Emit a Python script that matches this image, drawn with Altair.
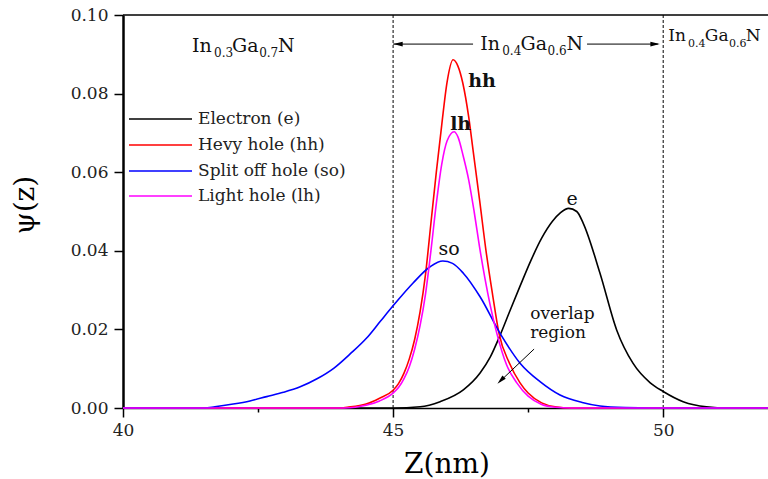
import altair as alt
import pandas as pd

# ---------------- data ----------------
series_names = ["Electron (e)", "Hevy hole (hh)", "Split off hole (so)", "Light hole (lh)"]
series_colors = ["#000000", "#ff0000", "#0000ff", "#ff00ff"]

e_z = [40, 45.0, 45.5, 45.87, 46.3, 46.61, 46.8, 46.98, 47.15, 47.35, 47.55, 47.75, 47.95, 48.1, 48.25,
       48.4, 48.52, 48.83, 49.14, 49.44, 49.76, 50.0, 50.37, 50.8, 51.2, 51.94]
e_psi = [0, 0, 0.0003, 0.0016, 0.0046, 0.0089, 0.013, 0.0185, 0.0243, 0.031, 0.0375, 0.0432, 0.0475, 0.0497, 0.0508,
         0.0500, 0.047, 0.0343, 0.0198, 0.0114, 0.0064, 0.0042, 0.0016, 0.0003, 0, 0]

hh_z = [40, 44.0, 44.15, 44.5, 44.75, 45.0, 45.1, 45.2, 45.3, 45.4, 45.5, 45.6, 45.7, 45.8, 45.9, 46.0, 46.11,
        46.2, 46.29, 46.4, 46.48, 46.6, 46.72, 46.84, 46.96, 47.15, 47.35, 47.5, 47.75, 48.0, 48.3, 51.94]
hh_psi = [0, 0, 0.0002, 0.001, 0.0025, 0.0045, 0.0062, 0.0088, 0.0125, 0.0175, 0.0245, 0.034, 0.047, 0.060, 0.072,
          0.083, 0.0886, 0.087, 0.0827, 0.074, 0.0656, 0.053, 0.040, 0.029, 0.019, 0.0115, 0.0064, 0.0038, 0.0013,
          0.0003, 0, 0]

so_z = [40, 41.5, 41.7, 42.04, 42.35, 42.66, 42.97, 43.28, 43.6, 43.9, 44.2, 44.51, 44.76, 45.0, 45.37, 45.69,
        45.92, 46.1, 46.3, 46.61, 46.98, 47.35, 47.72, 48.09, 48.5, 48.83, 49.3, 49.8, 51.94]
so_psi = [0, 0, 0.0003, 0.001, 0.0018, 0.0029, 0.004, 0.0054, 0.0075, 0.0101, 0.0137, 0.0178, 0.022, 0.026,
          0.0318, 0.036, 0.0374, 0.0368, 0.0343, 0.0283, 0.019, 0.0114, 0.0067, 0.0033, 0.0014, 0.0005, 0.0001, 0, 0]

lh_z = [40, 44.1, 44.3, 44.5, 44.75, 45.0, 45.1, 45.2, 45.3, 45.4, 45.5, 45.6, 45.7, 45.8, 45.9, 46.0, 46.13,
        46.2, 46.3, 46.4, 46.5, 46.6, 46.7, 46.8, 46.92, 47.1, 47.29, 47.5, 47.75, 48.0, 48.3, 51.94]
lh_psi = [0, 0, 0.0002, 0.0007, 0.0018, 0.0038, 0.0052, 0.0074, 0.0105, 0.015, 0.021, 0.029, 0.040, 0.052, 0.062,
          0.068, 0.0703, 0.069, 0.064, 0.058, 0.050, 0.041, 0.033, 0.026, 0.019, 0.011, 0.0064, 0.003, 0.0009,
          0.0002, 0, 0]

x_ticks = [40, 42.5, 45, 47.5, 50]
y_ticks = [0, 0.01, 0.02, 0.03, 0.04, 0.05, 0.06, 0.07, 0.08, 0.09, 0.10]
boundaries = [45, 50]

# ---------------- layout ----------------
W, H = 645, 393
X_DOMAIN = [40, 51.94]
Y_DOMAIN = [0, 0.10]
SMALL_FONT = "DejaVu Serif"
BIG_FONT = "DejaVu Serif"

xs = alt.Scale(domain=X_DOMAIN, nice=False, zero=False)
ys = alt.Scale(domain=Y_DOMAIN, nice=False)
cs = alt.Scale(domain=series_names, range=series_colors)

x_axis = alt.Axis(
    title="", values=x_ticks,
    labelExpr="datum.value % 5 === 0 ? format(datum.value, 'd') : ''",
    tickSize={"condition": {"test": "datum.value % 5 === 0", "value": 9}, "value": 4},
    tickWidth=1.5, tickColor="black", domainColor="black", domainWidth=1.5,
    labelFont=SMALL_FONT, labelFontSize=17, labelColor="#222", labelPadding=5,
    grid=False, labelFlush=False, zindex=0)

y_axis = alt.Axis(
    title="", values=y_ticks,
    labelExpr="round(datum.value*100) % 2 === 0 ? format(datum.value, '.2f') : ''",
    tickSize={"condition": {"test": "round(datum.value*100) % 2 === 0", "value": 9}, "value": 4},
    tickWidth=1.5, tickColor="black", domainColor="black", domainWidth=2.5,
    labelFont=SMALL_FONT, labelFontSize=17, labelColor="#222", labelPadding=6,
    grid=False, labelFlush=False, zindex=0)

layers = []

# dashed boundaries
vdf = pd.DataFrame({"z": boundaries})
layers.append(alt.Chart(vdf).mark_rule(color="black", strokeDash=[3, 2], strokeWidth=1).encode(
    x=alt.X("z:Q", scale=xs, axis=x_axis)))

# curves, drawn in order (magenta last)
for name, zs, ps in zip(series_names, [e_z, hh_z, so_z, lh_z], [e_psi, hh_psi, so_psi, lh_psi]):
    d = pd.DataFrame({"z": zs, "psi": ps, "series": name})
    layers.append(alt.Chart(d).mark_line(strokeWidth=1.6, interpolate="monotone").encode(
        x=alt.X("z:Q", scale=xs, axis=x_axis),
        y=alt.Y("psi:Q", scale=ys, axis=y_axis),
        color=alt.Color("series:N", scale=cs, legend=None)))

# top frame line
layers.append(alt.Chart(vdf).mark_rule(color="black", strokeWidth=1).encode(
    x=alt.value(0), x2=alt.value(W), y=alt.value(0)))

# axis titles as text
tdf = pd.DataFrame({"t": ["Z(nm)"]})
layers.append(alt.Chart(tdf).mark_text(font=BIG_FONT, fontSize=28, align="center", baseline="alphabetic",
                                       color="black").encode(
    x=alt.value(324), y=alt.value(458), text="t:N"))
ydf = pd.DataFrame({"t": ["ψ(z)"]})
layers.append(alt.Chart(ydf).mark_text(font=BIG_FONT, fontSize=28, align="center", baseline="middle",
                                       angle=270, color="black").encode(
    x=alt.value(-97), y=alt.value(190), text="t:N"))

# text annotations: (text, z, psi, font size, weight, align)
texts = [
    ("In", 41.278, 0.0906, 19, "normal", "left"),
    ("0.3", 41.685, 0.0893, 12, "normal", "left"),
    ("Ga", 42.02, 0.0906, 19, "normal", "left"),
    ("0.7", 42.52, 0.0893, 12, "normal", "left"),
    ("N", 42.87, 0.0906, 19, "normal", "left"),
    ("In", 46.611, 0.0911, 19, "normal", "left"),
    ("0.4", 47.02, 0.0898, 12, "normal", "left"),
    ("Ga", 47.36, 0.0911, 19, "normal", "left"),
    ("0.6", 47.86, 0.0898, 12, "normal", "left"),
    ("N", 48.21, 0.0911, 19, "normal", "left"),
    ("In", 50.093, 0.0934, 17, "normal", "left"),
    ("0.4", 50.46, 0.0919, 11, "normal", "left"),
    ("Ga", 50.77, 0.0934, 17, "normal", "left"),
    ("0.6", 51.22, 0.0919, 11, "normal", "left"),
    ("N", 51.53, 0.0934, 17, "normal", "left"),
    ("hh", 46.389, 0.0817, 19, "bold", "left"),
    ("lh", 46.056, 0.0707, 19, "bold", "left"),
    ("e", 48.315, 0.0517, 19, "normal", "center"),
    ("so", 46.037, 0.0389, 19, "normal", "center"),
    ("overlap", 47.537, 0.0226, 17, "normal", "left"),
    ("region", 47.537, 0.0178, 17, "normal", "left"),
]
for t, z, p, fs, fw, al in texts:
    d = pd.DataFrame({"z": [z], "psi": [p], "t": [t]})
    layers.append(alt.Chart(d).mark_text(font=SMALL_FONT, fontSize=fs, fontWeight=fw, align=al,
                                         baseline="alphabetic", color="#111").encode(
        x=alt.X("z:Q", scale=xs), y=alt.Y("psi:Q", scale=ys), text="t:N"))

# arrow shafts
shafts = pd.DataFrame({
    "z": [45.0, 48.59, 47.61],
    "z2": [46.48, 49.90, 46.98],
    "psi": [0.0926, 0.0926, 0.0150],
    "psi2": [0.0926, 0.0926, 0.0068],
})
layers.append(alt.Chart(shafts).mark_rule(color="black", strokeWidth=1).encode(
    x=alt.X("z:Q", scale=xs), x2="z2:Q", y=alt.Y("psi:Q", scale=ys), y2="psi2:Q"))

# arrow heads
heads = pd.DataFrame({"z": [45.1, 49.84, 47.0], "psi": [0.0926, 0.0926, 0.0071], "ang": [270, 90, 225]})
layers.append(alt.Chart(heads).mark_point(shape="M0,-1L0.45,0.8L-0.45,0.8Z", filled=True, color="black",
                                          size=110, opacity=1).encode(
    x=alt.X("z:Q", scale=xs), y=alt.Y("psi:Q", scale=ys), angle=alt.Angle("ang:Q", scale=None)))

# manual legend
leg_y = [104, 130, 156, 181]
for name, col, yy in zip(series_names, series_colors, leg_y):
    d = pd.DataFrame({"t": [name]})
    layers.append(alt.Chart(d).mark_rule(color=col, strokeWidth=1.3).encode(
        x=alt.value(6), x2=alt.value(69), y=alt.value(yy)))
    layers.append(alt.Chart(d).mark_text(font=SMALL_FONT, fontSize=17, align="left", baseline="middle",
                                         color="#222").encode(
        x=alt.value(75), y=alt.value(yy), text="t:N"))

chart = alt.layer(*layers).properties(
    width=W, height=H,
    autosize=alt.AutoSizeParams(type="none"),
    padding={"left": 123, "top": 15, "right": 0, "bottom": 71},
    background="white",
).configure_view(strokeWidth=0)

chart.save("out.html", embed_options={"renderer": "svg", "actions": False})
